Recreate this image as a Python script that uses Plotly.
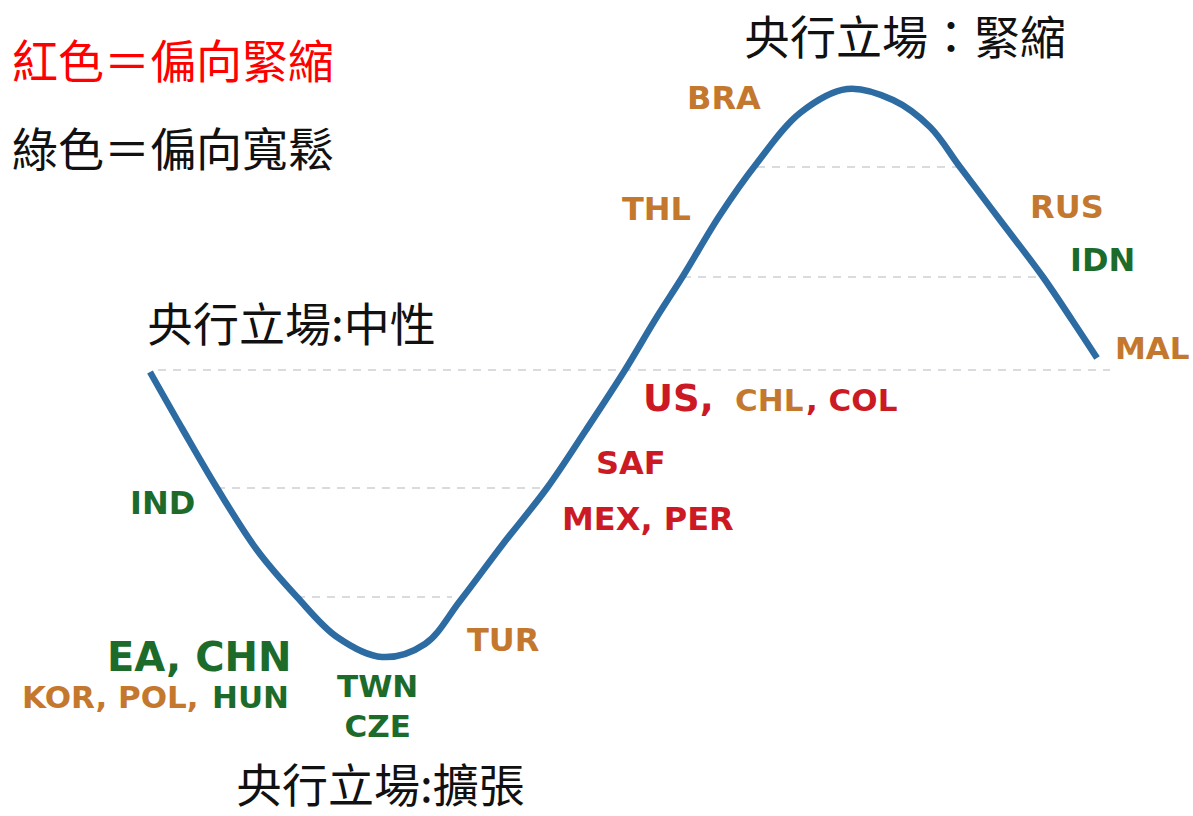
import plotly.graph_objects as go

W, H = 1193, 816

# Policy cycle curve (screen-style coordinates: y grows downward)
curve_x = [150, 183, 217, 257, 297, 337, 382, 425, 460, 503, 547, 586, 625,
           655, 683, 720, 757, 800, 847, 893, 930, 960, 1000, 1043, 1072, 1097]
curve_y = [372, 430, 488, 550, 597, 637, 657, 644, 601, 544, 488, 430, 370,
           320, 276, 215, 163, 113, 89, 100, 127, 167, 220, 277, 320, 358]

# Dashed reference levels
guide_y = [370, 488, 597, 167, 277]
guide_x0 = [158, 217, 297, 757, 683]
guide_x1 = [1110, 547, 452, 958, 1043]

ORANGE = "#c4782e"
RED = "#cc1a24"
GREEN = "#1d6b2b"

# Country labels: text, colour, x, y, anchor, size
labels = [
    ("BRA", ORANGE, 686, 98, "left", 32),
    ("THL", ORANGE, 621, 209, "left", 32),
    ("RUS", ORANGE, 1029, 207, "left", 32),
    ("IDN", GREEN, 1069, 260, "left", 32),
    ("MAL", ORANGE, 1191, 348, "right", 31),
    ("US,", RED, 642, 398, "left", 37),
    ("CHL", ORANGE, 734, 400, "left", 31),
    (", COL", RED, 805, 400, "left", 31),
    ("SAF", RED, 595, 463, "left", 32),
    ("MEX, PER", RED, 561, 519, "left", 32),
    ("IND", GREEN, 129, 503, "left", 32),
    ("TUR", ORANGE, 466, 640, "left", 32),
    ("EA, CHN", GREEN, 106, 657, "left", 40),
    ("KOR, POL,", ORANGE, 21, 697, "left", 31),
    ("HUN", GREEN, 290, 697, "right", 31),
    ("TWN<br>CZE", GREEN, 377, 706, "center", 31),
]

# Stance titles and legend text: text, x, y, color
titles = [
    ("紅色＝偏向緊縮", 11, 58, "#ff0000"),
    ("綠色＝偏向寬鬆", 11, 146, "#111111"),
    ("央行立場：緊縮", 743, 34, "#111111"),
    ("央行立場:中性", 146, 321, "#111111"),
    ("央行立場:擴張", 235, 782, "#111111"),
]

fig = go.Figure()

for gy, gx0, gx1 in zip(guide_y, guide_x0, guide_x1):
    fig.add_trace(go.Scatter(
        x=[gx0, gx1], y=[gy, gy], mode="lines",
        line=dict(color="#cdd0d4", width=1.6, dash="8px,7px"),
        hoverinfo="skip", showlegend=False,
    ))

fig.add_trace(go.Scatter(
    x=curve_x, y=curve_y, mode="lines",
    line=dict(color="#2d6ba3", width=6.5, shape="spline", smoothing=1.0),
    hoverinfo="skip", showlegend=False,
))

for text, color, x, y, anchor, size in labels:
    fig.add_annotation(
        x=x, y=y, xref="x", yref="y", text=f"<b>{text}</b>", showarrow=False,
        xanchor=anchor, yanchor="middle", align="center", borderpad=0,
        font=dict(family="DejaVu Sans", size=size, color=color),
    )

for text, x, y, color in titles:
    fig.add_annotation(
        x=x, y=y, xref="x", yref="y", text=text, showarrow=False,
        xanchor="left", yanchor="middle", borderpad=0,
        font=dict(family="Noto Sans CJK TC", size=46, color=color),
    )

fig.update_layout(
    width=W, height=H,
    margin=dict(l=0, r=0, t=0, b=0),
    paper_bgcolor="white", plot_bgcolor="white",
    xaxis=dict(range=[0, W], visible=False, fixedrange=True),
    yaxis=dict(range=[H, 0], visible=False, fixedrange=True),
)

fig.write_html("out.html")
